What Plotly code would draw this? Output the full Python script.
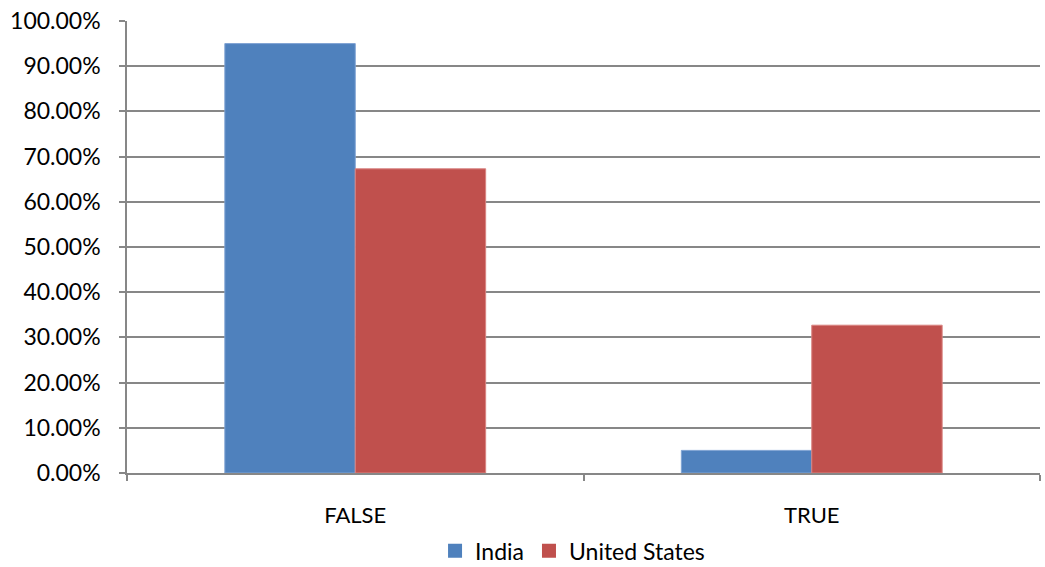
import plotly.graph_objects as go

categories = ["FALSE", "TRUE"]
india = [0.950, 0.050]
united_states = [0.673, 0.327]
y_ticks = [i / 10 for i in range(11)]
y_tick_labels = [f"{v * 100:.2f}%" for v in y_ticks]

series = [
    ("India", india, "#4F81BD", "#7FA3D3"),
    ("United States", united_states, "#C0504D", "#D98482"),
]

font_family = "Lato, 'Open Sans', sans-serif"
axis_grey = "#878787"

fig = go.Figure()
for name, values, fill, edge in series:
    fig.add_trace(go.Bar(
        name=name, x=categories, y=values, showlegend=False,
        marker=dict(color=fill, line=dict(color=edge, width=1)),
    ))
# square legend keys
for name, values, fill, edge in series:
    fig.add_trace(go.Scatter(
        name=name, x=[None], y=[None], mode="markers",
        marker=dict(symbol="square", size=14, color=fill),
        showlegend=True,
    ))

fig.update_layout(
    width=1045, height=567,
    margin=dict(l=127, r=5, t=21, b=94, autoexpand=False),
    paper_bgcolor="white", plot_bgcolor="white",
    barmode="group", bargap=0.4286, bargroupgap=0,
    font=dict(family=font_family, size=22, color="#000000"),
    showlegend=True,
    legend=dict(
        orientation="h", x=0.488, xanchor="center", y=-0.172, yanchor="middle",
        font=dict(size=23), itemwidth=30, traceorder="normal",
        itemsizing="trace", tracegroupgap=0,
    ),
)

fig.update_xaxes(
    type="category",
    showline=True, linecolor=axis_grey, linewidth=1.5,
    ticks="outside", tickson="boundaries", ticklen=6,
    tickcolor=axis_grey, tickwidth=1.5,
    showgrid=False, ticklabelstandoff=22,
    tickfont=dict(size=22),
)
fig.update_yaxes(
    range=[0, 1], tickvals=y_ticks, ticktext=y_tick_labels,
    showline=True, linecolor=axis_grey, linewidth=1.5,
    ticks="outside", ticklen=6, tickcolor=axis_grey, tickwidth=1.5,
    showgrid=True, gridcolor=axis_grey, gridwidth=1.5,
    zeroline=False, ticklabelstandoff=14,
    tickfont=dict(size=23),
)

fig.write_html("out.html")
